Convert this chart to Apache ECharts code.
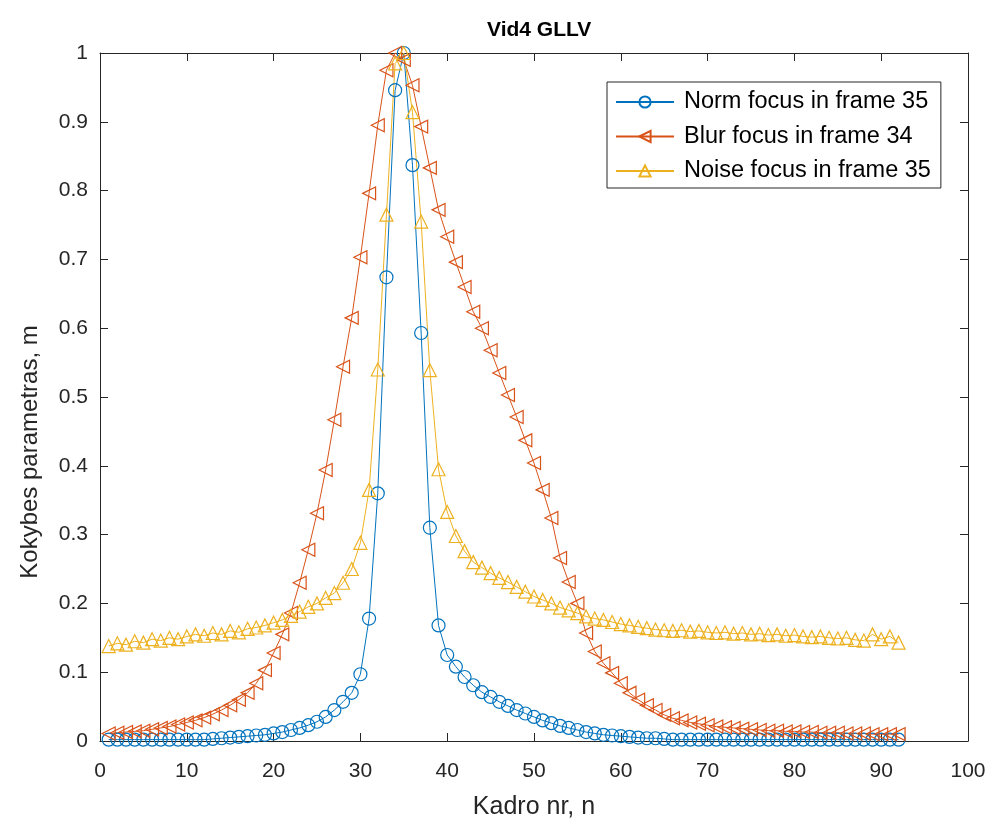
<!DOCTYPE html>
<html>
<head>
<meta charset="utf-8">
<script src="https://cdn.jsdelivr.net/npm/echarts@6/dist/echarts.min.js"></script>
<style>html,body{margin:0;padding:0;background:#fff}#c{width:994px;height:825px}</style>
</head>
<body>
<div id="c"></div>
<script>
// frames 1..92
var frames = [];
for (var i = 1; i <= 92; i++) frames.push(i);

var normFocus = [0.002,0.002,0.002,0.002,0.002,0.002,0.002,0.002,0.002,0.002,0.002,0.002,0.003,0.004,0.005,0.006,0.007,0.008,0.009,0.011,0.013,0.016,0.019,0.023,0.028,0.035,0.045,0.057,0.07,0.097,
  0.178,0.36,0.674,0.946,1.0,0.837,0.593,0.31,0.168,0.125,0.108,0.093,0.081,0.071,0.064,0.057,0.051,0.045,0.04,0.035,
  0.03,0.026,0.022,0.019,0.016,0.013,0.011,0.009,0.008,0.007,0.006,0.005,0.004,0.004,0.003,0.002,0.002,0.002,0.002,0.002,
  0.002,0.002,0.002,0.002,0.002,0.002,0.002,0.002,0.002,0.002,0.002,0.002,0.002,0.002,0.002,0.002,0.002,0.002,0.002,0.002,0.002,0.002];

var blurFocus = [0.011,0.012,0.013,0.014,0.015,0.017,0.019,0.021,0.024,0.027,0.03,0.034,0.039,0.045,0.052,0.06,0.07,0.084,0.103,0.128,
  0.155,0.186,0.23,0.278,0.331,0.394,0.467,0.544,0.615,0.703,0.796,0.895,0.975,1.0,0.99,0.953,0.893,0.833,0.772,0.733,
  0.696,0.66,0.624,0.6,0.568,0.535,0.503,0.471,0.437,0.404,0.365,0.324,0.266,0.231,0.2,0.157,0.13,0.113,0.099,0.084,
  0.07,0.06,0.052,0.045,0.038,0.033,0.03,0.027,0.025,0.023,0.021,0.02,0.019,0.018,0.017,0.016,0.015,0.015,0.014,0.014,
  0.013,0.013,0.012,0.012,0.012,0.011,0.011,0.011,0.01,0.01,0.01,0.01];

var noiseFocus = [0.138,0.142,0.14,0.145,0.143,0.148,0.146,0.15,0.148,0.152,0.155,0.153,0.157,0.155,0.16,0.158,0.163,0.165,0.168,0.172,
  0.176,0.182,0.188,0.195,0.2,0.208,0.215,0.23,0.25,0.288,0.365,0.54,0.765,0.985,1.0,0.914,0.755,0.539,0.395,0.333,
  0.298,0.276,0.26,0.252,0.244,0.237,0.231,0.224,0.217,0.21,0.205,0.2,0.194,0.19,0.186,0.181,0.178,0.176,0.173,0.17,
  0.168,0.166,0.164,0.162,0.161,0.16,0.161,0.159,0.16,0.158,0.157,0.158,0.156,0.157,0.155,0.156,0.154,0.155,0.153,0.154,
  0.152,0.151,0.152,0.15,0.149,0.15,0.147,0.146,0.155,0.148,0.152,0.143];

var seriesNames = ['Norm focus in frame 35', 'Blur focus in frame 34', 'Noise focus in frame 35'];
var colors = ['#0072BD', '#D95319', '#EDB120'];

function pairs(ys) {
  return frames.map(function (x, k) { return [x, ys[k]]; });
}

var axisColor = '#262626';
var font = 'Liberation Sans, Arial, sans-serif';

function mk(name, ys, color, symbol, rotate) {
  return {
    name: name,
    type: 'line',
    data: pairs(ys),
    symbol: symbol,
    symbolSize: 13,
    symbolRotate: rotate || 0,
    showSymbol: true,
    lineStyle: { color: color, width: 1 },
    itemStyle: { color: 'rgba(255,255,255,0)', borderColor: color, borderWidth: 1.2 },
    emphasis: { disabled: true },
    animation: false
  };
}

function frameAxis() {
  return {
    axisLine: { onZero: false, lineStyle: { color: axisColor } },
    axisTick: { inside: true, length: 8, lineStyle: { color: axisColor } },
    splitLine: { show: false }
  };
}

var chart = echarts.init(document.getElementById('c'));
chart.setOption({
  backgroundColor: '#fff',
  textStyle: { fontFamily: font },
  title: {
    text: 'Vid4 GLLV', left: 482, top: 15,
    textStyle: { fontSize: 21, fontWeight: 'bold', color: '#000', fontFamily: font }
  },
  legend: {
    orient: 'vertical', left: 607, top: 82,
    data: seriesNames,
    itemWidth: 58, itemHeight: 14, itemGap: 10.5,
    padding: [8, 10, 5, 8],
    borderColor: axisColor, borderWidth: 1,
    backgroundColor: '#fff',
    textStyle: { fontSize: 23.5, lineHeight: 22, color: '#000', fontFamily: font, padding: [0, 0, 0, 5] }
  },
  grid: { left: 100, right: 26, top: 53, bottom: 84, containLabel: false, outerBoundsMode: 'none' },
  xAxis: [
    Object.assign(frameAxis(), {
      type: 'value', min: 0, max: 100, interval: 10,
      name: 'Kadro nr, n', nameLocation: 'middle', nameGap: 54,
      nameTextStyle: { fontSize: 25, color: '#262626', fontFamily: font },
      axisLabel: { fontSize: 21, color: '#262626', margin: 20 }
    }),
    Object.assign(frameAxis(), {
      type: 'value', min: 0, max: 100, interval: 10, position: 'top',
      axisLabel: { show: false }
    })
  ],
  yAxis: [
    Object.assign(frameAxis(), {
      type: 'value', min: 0, max: 1, interval: 0.1,
      name: 'Kokybes parametras, m', nameLocation: 'middle', nameGap: 58,
      nameTextStyle: { fontSize: 24, color: '#262626', fontFamily: font, padding: [0, 110, 0, 0] },
      axisLabel: { fontSize: 21, color: '#262626', margin: 12 }
    }),
    Object.assign(frameAxis(), {
      type: 'value', min: 0, max: 1, interval: 0.1, position: 'right',
      axisLabel: { show: false }
    })
  ],
  series: [
    mk(seriesNames[0], normFocus, colors[0], 'circle'),
    mk(seriesNames[1], blurFocus, colors[1], 'triangle', 90),
    mk(seriesNames[2], noiseFocus, colors[2], 'triangle')
  ]
});
</script>
</body>
</html>
